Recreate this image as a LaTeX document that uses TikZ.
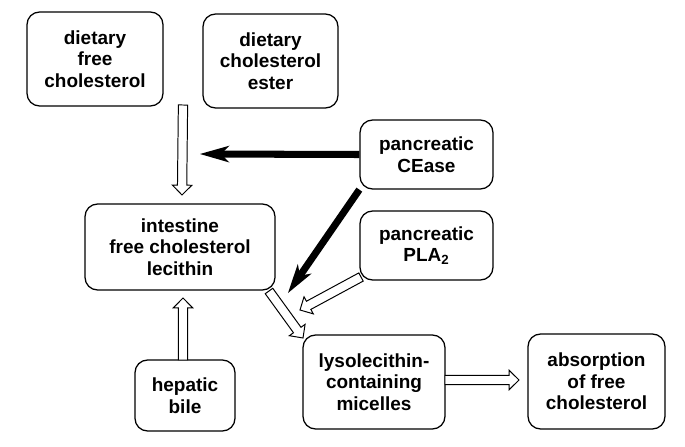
\documentclass[tikz,border=0pt]{standalone}
\usepackage{fontspec}
\setmainfont{Liberation Sans}
\usetikzlibrary{arrows.meta,calc}

% open block arrow from #1 to #2
\newcommand{\hollowarrow}[2]{%
  \path (#1) coordinate (ha) (#2) coordinate (hb);
  \coordinate (hc) at ($(hb)!7pt!(ha)$);
  \draw[hollowstyle] ($(ha)!3.3pt!90:(hb)$) -- ($(hc)!3.3pt!90:(hb)$)
    -- ($(hc)!6.9pt!90:(hb)$) -- (hb) -- ($(hc)!6.9pt!-90:(hb)$)
    -- ($(hc)!3.3pt!-90:(hb)$) -- ($(ha)!3.3pt!-90:(hb)$) -- cycle;
}

\begin{document}
\begin{tikzpicture}[x=0.025cm, y=-0.025cm]

    \tikzset{boxstyle/.style={draw, line width=0.9pt, rounded corners=9pt, align=center,
                              inner sep=0pt, font=\bfseries\fontsize{13.5}{15.3}\selectfont}}
    \tikzset{hollowstyle/.style={draw, fill=white, line width=0.7pt, line join=miter}}
    \tikzset{blackstyle/.style={line width=5pt,
                                -{Stealth[length=21pt, width=12pt, inset=6pt, line width=0pt]}}}

    \useasboundingbox (0,0) rectangle (685,447);

    \node[boxstyle, minimum width=3.4cm, minimum height=2.35cm] (fchol) at (95,59) {dietary\\free\\cholesterol};
    \node[boxstyle, minimum width=3.375cm, minimum height=2.35cm] (cester) at (270.5,61) {dietary\\cholesterol\\ester};
    \node[boxstyle, minimum width=3.325cm, minimum height=1.725cm] (cease) at (426.5,154.5) {pancreatic\\CEase};
    \node[boxstyle, minimum width=3.325cm, minimum height=1.725cm] (pla) at (426.5,245.5) {pancreatic\\PLA\textsubscript{2}};
    \node[boxstyle, minimum width=4.75cm, minimum height=2.15cm] (intest) at (180,247) {intestine\\free cholesterol\\lecithin};
    \node[boxstyle, minimum width=2.5cm, minimum height=1.775cm] (bile) at (185,395.5) {hepatic\\bile};
    \node[boxstyle, minimum width=3.55cm, minimum height=2.35cm] (lyso) at (374,382) {lysolecithin-\\containing\\micelles};
    \node[boxstyle, minimum width=3.425cm, minimum height=2.375cm] (absorb) at (596.5,381.5) {absorption\\of free\\cholesterol};

    % arrow ends
    \coordinate (d1) at (183,105);
    \coordinate (d2) at (182,195);
    \coordinate (u1) at (183,360);
    \coordinate (u2) at (183,298);
    \coordinate (m1) at (269,291);
    \coordinate (m2) at (303,338);
    \coordinate (p1) at (361,277);
    \coordinate (p2) at (300,310);
    \coordinate (r1) at (445,380);
    \coordinate (r2) at (519,380);
    \coordinate (c1) at (200,154);
    \coordinate (c2) at (288,293);

    \draw[blackstyle] (cease.west) -- (c1);
    \draw[blackstyle] (cease.south west) -- (c2);

    \hollowarrow{d1}{d2}
    \hollowarrow{u1}{u2}
    \hollowarrow{m1}{m2}
    \hollowarrow{p1}{p2}
    \hollowarrow{r1}{r2}

\end{tikzpicture}
\end{document}
